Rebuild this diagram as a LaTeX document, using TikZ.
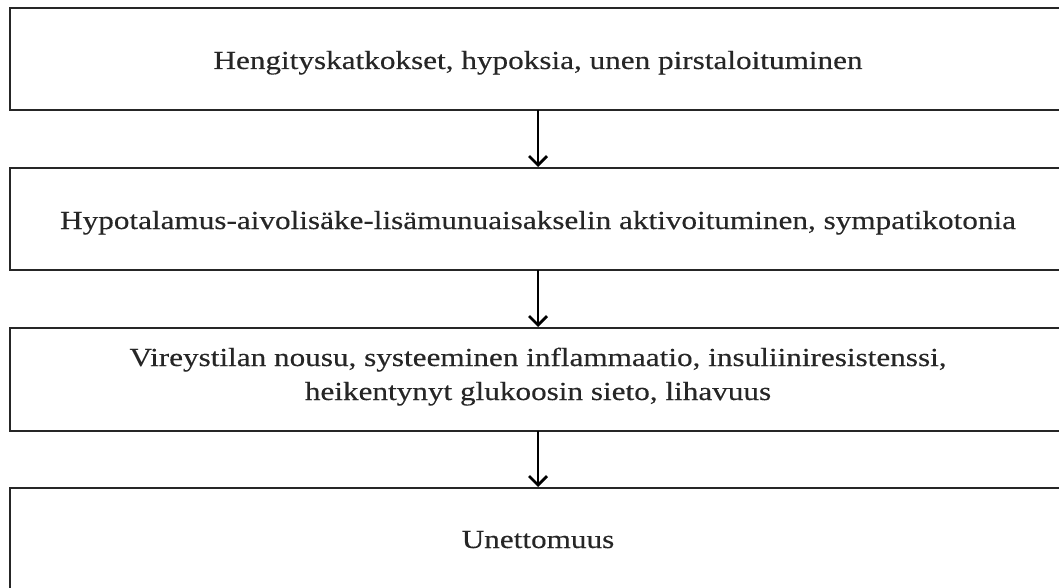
\documentclass[tikz,border=0pt]{standalone}
\usepackage{fontspec}
\setmainfont[FakeStretch=1.2,FakeBold=0.3]{Liberation Serif}
\usetikzlibrary{arrows.meta}
\begin{document}
\begin{tikzpicture}[x=1pt,y=-1pt,
  box/.style={draw=black!85,line width=2.6pt,fill=white},
  lbl/.style={font=\fontsize{26}{34}\selectfont,align=center,text=black!85,anchor=base},
  arr/.style={draw=black,line width=2.8pt,-{Straight Barb[length=9pt,width=18pt,line width=2.8pt]}}]
\useasboundingbox (0,0) rectangle (1059,588);
\draw[box] (10,8) rectangle (1068,110);
\draw[box] (10,168) rectangle (1068,270);
\draw[box] (10,328) rectangle (1068,431);
\draw[box] (10,488) rectangle (1068,595);
\node[lbl] (t1) at (538,69) {Hengityskatkokset, hypoksia, unen pirstaloituminen};
\node[lbl] (t2) at (538,229) {Hypotalamus-aivolisäke-lisämunuaisakselin aktivoituminen, sympatikotonia};
\node[lbl] (t3) at (538,400) {Vireystilan nousu, systeeminen inflammaatio, insuliiniresistenssi,\\heikentynyt glukoosin sieto, lihavuus};
\node[lbl] (t4) at (538,548) {Unettomuus};
\coordinate (a1) at (538,110); \coordinate (b1) at (538,167);
\coordinate (a2) at (538,270); \coordinate (b2) at (538,327);
\coordinate (a3) at (538,431); \coordinate (b3) at (538,487);
\draw[arr] (a1) -- (b1);
\draw[arr] (a2) -- (b2);
\draw[arr] (a3) -- (b3);
\end{tikzpicture}
\end{document}
